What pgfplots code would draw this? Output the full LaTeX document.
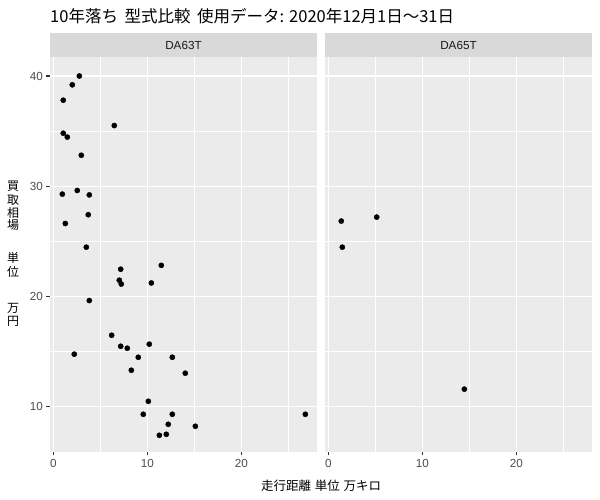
\documentclass[border=0pt]{standalone}
\usepackage{fontspec}
\setmainfont{Liberation Sans}
\newfontfamily\cjk{Noto Sans CJK JP}
\usepackage{pgfplots}
\pgfplotsset{compat=1.18}

\definecolor{panel}{HTML}{EBEBEB}
\definecolor{strip}{HTML}{D9D9D9}
\definecolor{gtxt}{HTML}{4D4D4D}
\definecolor{gtick}{HTML}{333333}
\definecolor{gstrip}{HTML}{1A1A1A}

\pgfplotsset{
  facet/.style={
    scale only axis, width=267bp, height=394.4bp,
    xmin=-0.35, xmax=28.05, ymin=5.87, ymax=41.7,
    axis background/.style={fill=panel},
    axis line style={draw=none},
    xtick={0,10,20}, ytick={10,20,30,40},
    minor xtick={5,15,25}, minor ytick={15,25,35},
    grid=both,
    major grid style={white, line width=1.07bp},
    minor grid style={white, line width=0.53bp},
    tick align=outside, major tick length=3.7bp, minor tick length=0pt,
    xtick pos=bottom, ytick pos=left,
    tick style={gtick, line width=1.07bp},
    ticklabel style={font=\fontsize{11.7bp}{13bp}\selectfont, text=gtxt},
    /pgf/number format/assume math mode=true,
  },
  pts/.style={only marks, mark=*, mark size=2.6bp, black,
    mark options={fill=black, draw=black}},
}

\begin{document}
\begin{tikzpicture}
\useasboundingbox (0,0) rectangle (600bp,500bp);

% title
\node[anchor=west, inner sep=0pt, font=\cjk\fontsize{16.5bp}{18bp}\selectfont]
  at (50bp,484bp) {10年落ち\hspace{0.4em}型式比較\hspace{0.4em}使用データ:\hspace{0.3em}2020年12月1日～31日};

% strips
\fill[strip] (50bp,442.7bp) rectangle (317bp,467.3bp);
\fill[strip] (325bp,442.7bp) rectangle (592bp,467.3bp);
\node[text=gstrip, font=\fontsize{11.7bp}{13bp}\selectfont] at (183.5bp,455bp) {DA63T};
\node[text=gstrip, font=\fontsize{11.7bp}{13bp}\selectfont] at (458.5bp,455bp) {DA65T};

% left panel: DA63T
\begin{axis}[facet, at={(50bp,48.3bp)}, anchor=south west]
\addplot[pts] coordinates {
 (2.77,40.0) (2.02,39.2) (1.06,37.8) (6.49,35.5) (1.06,34.8) (1.49,34.45)
 (2.98,32.8) (2.55,29.6) (0.96,29.27) (3.83,29.2) (3.72,27.4) (1.28,26.6)
 (3.51,24.45) (7.17,22.45) (11.49,22.8) (7.02,21.45) (7.23,21.1) (10.43,21.2)
 (3.83,19.6) (6.21,16.45) (7.17,15.45) (7.87,15.27) (10.21,15.64) (2.23,14.73)
 (9.04,14.45) (12.66,14.45) (8.30,13.27) (14.04,13.0) (10.11,10.45) (9.57,9.27)
 (12.66,9.27) (26.81,9.27) (12.23,8.36) (15.11,8.18) (11.28,7.36) (12.02,7.45)
};
\end{axis}

% right panel: DA65T
\begin{axis}[facet, at={(325bp,48.3bp)}, anchor=south west,
  yticklabels={}, ytick style={draw=none}]
\addplot[pts] coordinates {
 (1.38,26.82) (5.15,27.18) (1.49,24.45) (14.47,11.55)
};
\end{axis}

% axis titles
\node[font=\cjk\fontsize{12.5bp}{14bp}\selectfont] at (321bp,14.5bp)
  {走行距離\hspace{0.3em}単位\hspace{0.3em}万キロ};
\begin{scope}[every node/.style={font=\cjk\fontsize{12bp}{13bp}\selectfont, inner sep=0pt}]
\node at (13bp,313.3bp) {買};
\node at (13bp,299.2bp) {取};
\node at (13bp,287bp) {相};
\node at (13bp,275bp) {場};
\node at (13bp,242bp) {単};
\node at (13bp,228.3bp) {位};
\node at (13bp,192bp) {万};
\node at (13bp,179bp) {円};
\end{scope}
\end{tikzpicture}
\end{document}
